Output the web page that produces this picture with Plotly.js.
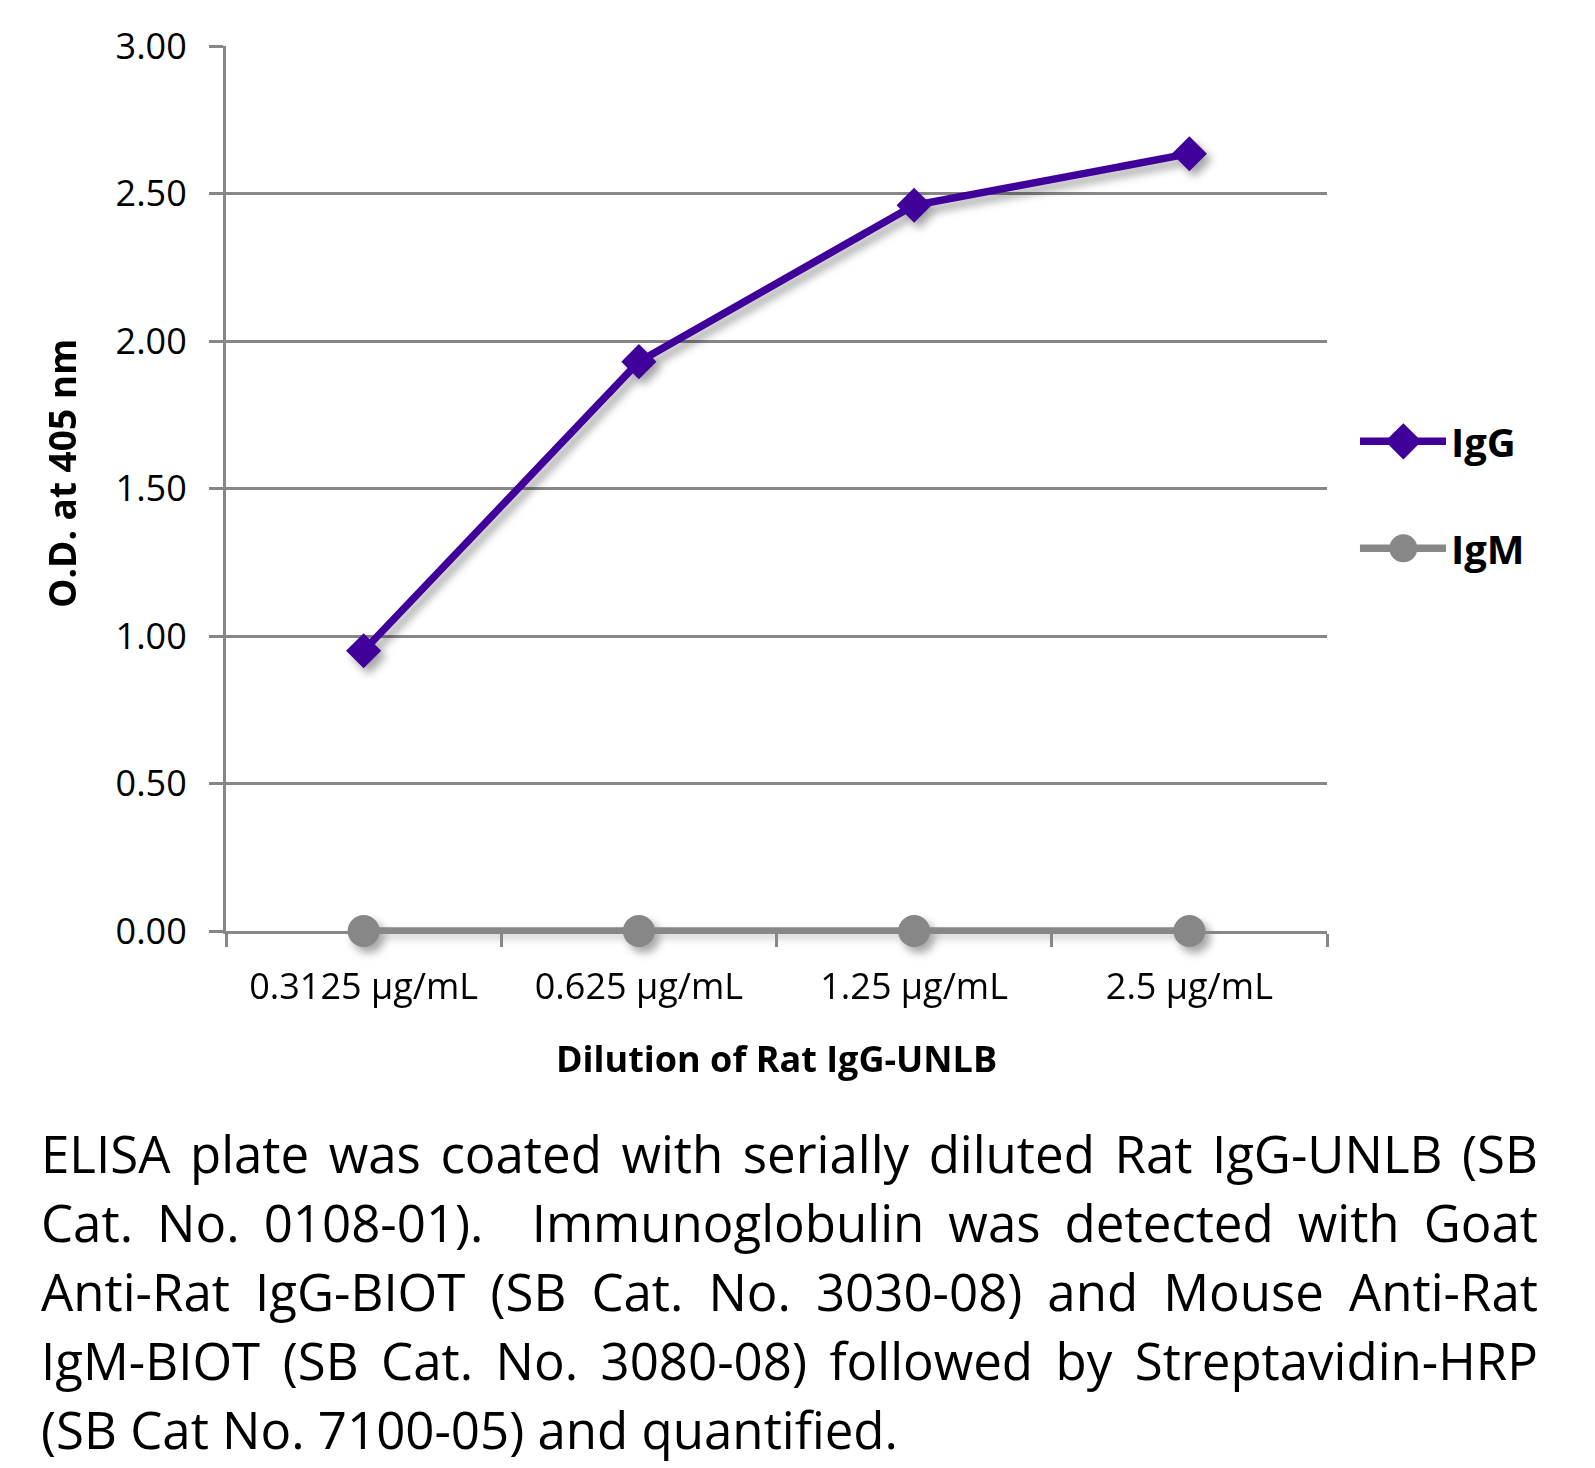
<!DOCTYPE html>
<html>
<head>
<meta charset="utf-8">
<script src="https://cdn.plot.ly/plotly-3.0.1.min.js"></script>
<style>
  html, body { margin: 0; padding: 0; background: #fff; width: 1595px; height: 1468px; overflow: hidden; }
  #chart { position: absolute; left: 0; top: 0; width: 1595px; height: 1100px; }
  #caption { position: absolute; left: 41px; top: 1119px; width: 1497px; font-family: "Open Sans", sans-serif; font-size: 51px; line-height: 69px; color: #000; }
  #caption .ln { text-align: justify; text-align-last: justify; white-space: nowrap; }
  #caption .ln.last { text-align-last: left; }
  .scatterlayer .trace { filter: drop-shadow(5px 6px 4px rgba(0,0,0,0.35)); }
  .legend .legendpoints path.scatterpts { transform-box: fill-box; transform-origin: center; scale: 1.75; translate: -35.6px 0; }
</style>
</head>
<body>
<div id="chart"></div>
<div id="caption">
  <div class="ln">ELISA plate was coated with serially diluted Rat IgG-UNLB (SB</div>
  <div class="ln">Cat. No. 0108-01).&nbsp; Immunoglobulin was detected with Goat</div>
  <div class="ln">Anti-Rat IgG-BIOT (SB Cat. No. 3030-08) and Mouse Anti-Rat</div>
  <div class="ln">IgM-BIOT (SB Cat. No. 3080-08) followed by Streptavidin-HRP</div>
  <div class="ln last">(SB Cat No. 7100-05) and quantified.</div>
</div>
<script>
const categories = ["0.3125 µg/mL", "0.625 µg/mL", "1.25 µg/mL", "2.5 µg/mL"];
const igg = [0.95, 1.93, 2.46, 2.635];
const igm = [0.0, 0.0, 0.0, 0.0];
const yTickVals = [0, 0.5, 1, 1.5, 2, 2.5, 3];

const gray = "#878787";
const purple = "#40009A";

const traces = [
  { x: categories, y: igg, name: "IgG", type: "scatter", mode: "lines+markers", cliponaxis: false,
    line: { color: purple, width: 7.5 }, marker: { symbol: "diamond", size: 27, color: purple },
    legendgroup: "a" },
  { x: categories, y: igm, name: "IgM", type: "scatter", mode: "lines+markers", cliponaxis: false,
    line: { color: gray, width: 7.5 }, marker: { symbol: "circle", size: 32, color: gray },
    legendgroup: "b" }
];

const layout = {
  width: 1595, height: 1100,
  margin: { l: 226, r: 268, t: 46, b: 169 },
  paper_bgcolor: "#fff", plot_bgcolor: "#fff",
  font: { family: "Open Sans, sans-serif", size: 36, color: "#000" },
  showlegend: true,
  legend: { x: 1.0254, xanchor: "left", y: 0.59, yanchor: "top",
            font: { size: 40, color: "#000", weight: "bold" },
            traceorder: "grouped", tracegroupgap: 52, itemwidth: 86 },
  xaxis: {
    type: "category", range: [-0.5, 3.5],
    showgrid: false, showline: true, linecolor: gray, linewidth: 3,
    ticks: "outside", tickson: "boundaries", ticklen: 13, tickwidth: 3, tickcolor: gray,
    tickfont: { size: 36 }, ticklabelstandoff: 22,
    title: { text: "Dilution of Rat IgG-UNLB", font: { size: 36, weight: "bold" }, standoff: 38 },
    zeroline: false
  },
  yaxis: {
    range: [0, 3], tickvals: yTickVals, tickformat: ".2f",
    showgrid: true, gridcolor: gray, gridwidth: 3,
    showline: true, linecolor: gray, linewidth: 3,
    ticks: "outside", ticklen: 14, tickwidth: 3, tickcolor: gray,
    tickfont: { size: 36 }, ticklabelstandoff: 15,
    zeroline: false
  },
  annotations: [
    { text: "O.D. at 405 nm", xref: "paper", yref: "paper", x: -0.1499, y: 0.5175,
      xanchor: "center", yanchor: "middle", textangle: -90, showarrow: false,
      font: { size: 37, weight: "bold", color: "#000" } }
  ]
};

Plotly.newPlot("chart", traces, layout, { staticPlot: true, displayModeBar: false });
</script>
</body>
</html>
